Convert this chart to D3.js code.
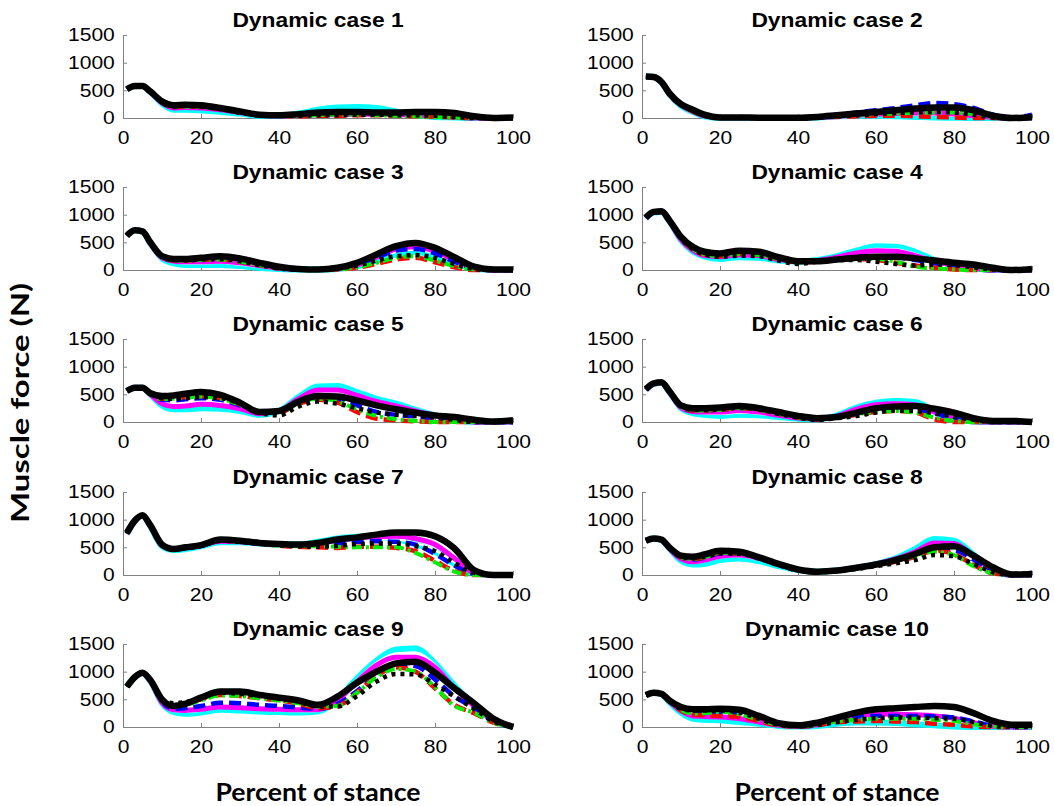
<!DOCTYPE html>
<html>
<head>
<meta charset="utf-8">
<script src="https://cdn.jsdelivr.net/npm/d3@7"></script>
<style>
body { margin: 0; background: #fff; }
svg { display: block; }
.tick text { font-family: "Liberation Sans", Arial, sans-serif; font-size: 18px; fill: #000; }
.title { font-family: "Liberation Sans", Arial, sans-serif; font-size: 19.5px; font-weight: bold; }
.axlabel { font-family: "Lato", "Open Sans", sans-serif; font-weight: bold; }
</style>
</head>
<body>
<svg id="chart" width="1054" height="806"></svg>
<script>
// percent of stance at which each value is read
const stance = [1, 3, 5, 7, 10, 13, 16, 20, 25, 30, 35, 40, 45, 50, 55, 60, 65, 70, 75, 80, 85, 90, 95, 100];
const yTicks = [0, 500, 1000, 1500];
const xTicks = [0, 20, 40, 60, 80, 100];
const titles = ["Dynamic case 1", "Dynamic case 2", "Dynamic case 3", "Dynamic case 4", "Dynamic case 5",
                "Dynamic case 6", "Dynamic case 7", "Dynamic case 8", "Dynamic case 9", "Dynamic case 10"];
// order of rows inside every case array
const seriesNames = ["cyan", "white", "magenta", "blue", "red", "green", "dotted", "black"];

const case1 = [
  [520,580,580,470,260,150,150,140,110, 80, 40, 40, 80,150,190,200,180,120, 60, 20, 10,  0,  0,  0],
  [520,580,580,470,270,190,200,190,160,110, 50, 40, 60, 80, 90,100, 90, 80, 70, 50, 30,  0,  0,  0],
  [520,580,580,470,270,180,190,180,150,100, 50, 40, 50, 60, 60, 70, 70, 60, 50, 40, 20,  0,  0,  0],
  [520,580,580,470,280,200,210,200,160,100, 50, 40, 40, 50, 60, 70, 70, 60, 50, 40, 20, 10,  0,  0],
  [520,580,580,470,280,200,210,200,160,100, 50, 40, 30, 40, 40, 50, 50, 40, 30, 20, 10,  0,  0,  0],
  [520,580,580,470,280,200,210,200,160,100, 50, 40, 40, 50, 60, 60, 50, 40, 30, 20, 10,  0,  0,  0],
  [520,580,580,470,290,210,220,210,160,100, 50, 40, 40, 50, 50, 60, 60, 50, 50, 40, 20,  0,  0,  0],
  [520,580,580,480,300,230,240,230,180,120, 60, 50, 70,100,110,110,100,100,110,110, 90, 30,  0, 10]
];
const case2 = [
  [750,740,640,430,220,110, 30,  0,  0,  0,  0,  0, 10, 30, 40, 40, 30, 20, 10,  5,  0,  0,  0,  0],
  [750,740,640,430,230,120, 40,  5,  5,  0,  0,  0, 10, 30, 50, 60, 70, 70, 60, 40, 20,  0,  0,  0],
  [750,740,640,430,230,120, 40,  5,  5,  0,  0,  0, 10, 30, 50, 70, 80, 90, 90, 70, 40, 10,  0,  0],
  [750,740,650,440,240,140, 50, 10, 20, 10,  5,  5, 20, 60,100,140,180,230,270,250,180, 60, 10, 60],
  [750,740,640,430,230,120, 40,  5,  5,  0,  0,  0, 10, 20, 30, 40, 40, 30, 20, 10,  0,  0,  0,  0],
  [750,740,650,440,240,130, 40,  5,  5,  0,  0,  0, 10, 30, 50, 70, 80, 90,100,100, 70, 20,  0, 10],
  [750,740,650,440,240,130, 40,  5,  5,  0,  0,  0, 10, 30, 50, 70, 90,100,110,100, 60, 10,  0, 10],
  [750,740,650,450,250,150, 60, 10, 10,  5,  5,  5, 20, 50, 80,110,140,170,190,190,140, 40,  0, 20]
];
const case3 = [
  [620,720,690,480,210,120, 90, 90, 90, 70, 40, 20, 10, 10, 20, 70,170,280,330,260,120, 20,  0,  0],
  [620,720,690,480,220,140,120,120,130,100, 60, 20, 10, 10, 30, 90,210,330,370,300,150, 30,  0,  0],
  [620,720,690,480,220,160,150,150,160,130, 80, 30, 10, 10, 20, 90,230,380,420,340,180, 40,  0,  0],
  [620,720,690,480,230,170,170,180,190,150, 90, 30, 10, 10, 20, 90,220,350,380,300,150, 30,  0,  0],
  [620,720,690,480,230,170,170,180,190,150, 90, 30, 10,  5, 10, 40,110,190,220,140, 50,  0,  0,  0],
  [620,720,690,480,230,170,170,180,190,150, 90, 30, 10,  5, 10, 50,130,220,250,170, 70, 10,  0,  0],
  [620,720,690,480,240,180,180,190,200,160, 90, 30, 10, 10, 30, 80,170,250,270,220,110, 20,  0,  0],
  [620,720,700,500,250,200,200,220,250,210,130, 60, 20, 10, 40,130,280,430,490,400,230, 60, 10, 10]
];
const case4 = [
  [930,1040,1050,880,540,340,240,200,230,220,170,150,180,250,350,430,420,330,180, 80, 30,  0,  0,  0],
  [930,1040,1050,880,550,350,260,230,260,250,180,150,170,230,320,380,370,290,170, 80, 30,  0,  0,  0],
  [930,1040,1050,880,550,360,260,240,270,260,190,150,170,230,310,350,340,260,160, 80, 30,  0,  0,  0],
  [940,1040,1050,890,570,390,300,270,310,290,210,150,160,200,240,250,230,180,120, 70, 30,  0,  0,  0],
  [940,1040,1050,890,570,380,280,250,290,270,200,140,150,180,200,180,130, 80, 40, 10,  0,  0,  0,  0],
  [940,1040,1050,890,570,380,280,250,290,270,200,140,150,180,200,200,150, 60, 30, 10,  0,  0,  0,  0],
  [940,1040,1050,890,570,380,280,240,260,250,170,110,150,180,180,150,110, 80,100, 90, 50, 10,  0,  0],
  [950,1050,1060,900,600,420,330,300,350,330,230,160,160,190,220,240,240,210,170,130,100, 40,  0, 20]
];
const case5 = [
  [560,620,620,500,300,230,230,250,240,200,130,200,450,640,650,540,420,330,220,120, 40,  0,  0,  0],
  [560,620,620,500,340,320,340,380,360,280,160,190,400,560,560,470,360,280,190,110, 40,  0,  0,  0],
  [560,620,620,500,330,280,290,320,300,240,150,200,420,580,580,480,370,290,200,120, 50,  0,  0,  0],
  [560,620,620,510,400,390,410,430,400,300,170,180,350,440,400,300,180,130,100, 60, 20,  0,  0,  0],
  [560,620,620,510,420,430,450,470,430,320,170,170,330,400,350,180, 60, 30, 10,  0,  0,  0,  0,  0],
  [560,620,620,510,410,420,440,460,420,310,170,170,340,420,370,230,110, 50, 20,  0,  0,  0,  0,  0],
  [560,620,620,510,430,420,430,450,430,330,160,120,280,370,330,250,170,130,110, 80, 40,  0,  0,  0],
  [560,620,620,520,470,480,510,540,490,350,180,200,370,470,460,390,300,230,170,120, 90, 40, 10, 30]
];
const case6 = [
  [580,690,710,540,250,160,130,110,130,120, 90, 60, 50,120,260,350,380,360,200, 60, 10,  0,  0,  0],
  [580,690,710,540,260,180,160,150,170,150,110, 70, 50,110,240,320,350,330,190, 60, 10,  0,  0,  0],
  [580,690,710,540,260,190,180,180,210,180,120, 70, 50,110,230,310,330,310,180, 60, 10,  0,  0,  0],
  [590,690,710,550,270,210,210,220,250,220,150, 80, 50, 90,160,200,220,220,150, 60, 10,  0,  0,  0],
  [590,690,710,550,270,210,210,220,250,220,150, 80, 50, 80,130,180,200,170, 50,  0,  0,  0,  0,  0],
  [590,690,710,550,270,210,210,220,250,220,150, 80, 50, 80,140,180,200,170, 80, 20,  0,  0,  0,  0],
  [590,690,710,550,280,220,220,230,260,230,150, 80, 40, 70,110,170,210,200,160,100, 40,  0,  0,  0],
  [600,700,720,560,300,250,250,260,290,250,180,110, 70, 90,170,250,280,290,240,170, 70, 20, 20,  0]
];
const case7 = [
  [740,970,1070,880,520,450,470,520,590,590,570,550,550,600,660,690,680,650,560,420,200, 30,  0,  0],
  [740,970,1070,880,520,450,480,520,600,600,570,550,540,570,620,640,650,640,580,450,230, 40,  0,  0],
  [740,970,1070,880,530,460,490,530,610,600,570,550,540,570,630,670,690,700,660,550,300, 40,  0,  0],
  [750,970,1070,890,540,460,490,530,620,600,570,540,520,520,560,600,610,600,550,380,170, 20,  0,  0],
  [750,970,1070,890,540,460,490,530,620,600,570,530,510,500,490,510,510,490,430,260, 70,  0,  0,  0],
  [750,970,1070,890,540,460,490,530,620,600,570,530,520,520,510,500,500,500,400,230, 60,  0,  0,  0],
  [750,970,1070,890,540,460,490,530,620,600,570,540,520,510,530,560,570,570,520,430,220, 40,  0,  0],
  [760,980,1080,900,550,470,500,540,640,620,580,560,550,580,640,680,730,770,770,700,480, 90,  0,  0]
];
const case8 = [
  [620,660,630,480,260,190,200,270,300,250,160, 90, 60, 80,130,200,300,470,650,620,370, 80,  0,  0],
  [620,660,630,480,280,220,250,320,340,280,180, 90, 60, 80,130,200,290,430,580,560,340, 80,  0,  0],
  [620,660,630,480,290,240,270,340,360,300,190, 90, 60, 80,130,200,290,420,580,570,350, 90,  0,  0],
  [620,660,640,490,320,280,310,390,390,310,190, 90, 60, 80,130,190,270,370,470,450,280, 70,  0, 40],
  [620,660,640,490,320,290,320,400,390,310,190, 90, 60, 80,120,180,240,330,440,380,180, 30,  0,  0],
  [620,660,640,490,320,290,320,400,390,310,190, 90, 60, 80,120,180,250,340,420,360,160, 30,  0,  0],
  [620,660,640,490,330,300,330,390,380,300,180, 80, 50, 70,110,160,210,270,360,340,200, 50,  0,  0],
  [620,660,640,500,350,330,370,440,420,320,200,100, 60, 80,130,190,270,380,500,520,350,140, 10, 20]
];
const case9 = [
  [730,900,970,830,430,270,240,260,310,300,280,270,260,280,500,880,1200,1400,1420,1150,750,400,120, 0],
  [730,900,970,830,440,290,280,300,360,350,320,300,290,290,490,850,1160,1330,1340,1120,720,390,120, 0],
  [730,900,970,830,440,310,300,320,360,350,330,320,310,310,480,820,1120,1260,1260,1080,700,380,120, 0],
  [730,900,970,840,460,330,340,380,440,430,400,380,350,330,420,650,950,1130,1100,860,550,350,100,  0],
  [730,900,970,840,470,380,420,500,580,560,520,480,420,340,380,620,920,1080,1000,700,400,250, 80,  0],
  [730,900,970,840,470,360,400,480,570,560,520,480,430,370,380,620,900,1050,1000,720,380,260, 80,  0],
  [730,900,970,840,480,430,450,520,620,600,560,520,460,370,370,560,820,960,950,770,550,330,100,  0],
  [730,900,980,850,500,380,420,530,640,640,580,530,480,400,550,800,1000,1150,1180,980,700,430,150,  0]
];
const case10 = [
  [580,620,590,450,260,150,130,120, 90, 60, 20, 10, 20, 60, 80, 80, 70, 50, 30, 10,  0,  0,  0,  0],
  [580,620,590,450,280,190,190,200,170,100, 30, 10, 30, 90,140,170,170,160,140,100, 40,  0,  0,  0],
  [580,620,590,460,290,200,190,180,150, 90, 30, 10, 40,120,200,230,230,220,200,160, 80, 10,  0,  0],
  [580,620,600,470,310,230,240,250,220,120, 40, 10, 40,150,190,200,200,200,190,170,100, 20,  0,  0],
  [580,620,600,470,300,220,210,200,180,110, 30, 10, 30, 90,100,110,100, 90, 60, 40, 10,  0,  0,  0],
  [580,620,600,470,310,240,250,270,230,130, 40, 10, 40,100,130,150,150,150,130,110, 50, 10,  0,  0],
  [580,620,600,470,330,300,300,300,260,150, 40, 20, 40, 90,130,160,170,170,160,150, 90, 20,  0,  0],
  [580,620,600,480,360,320,320,330,310,200, 70, 30, 80,170,260,320,340,360,380,360,250,110, 40, 40]
];
const cases = [case1, case2, case3, case4, case5, case6, case7, case8, case9, case10];

// line look for each series
const lineStyle = {
  cyan:    { color: "#00ffff", width: 6,   dash: null },
  white:   { color: "#ffffff", width: 2.5, dash: null },
  magenta: { color: "#ff00ff", width: 5,   dash: null },
  blue:    { color: "#0000ff", width: 4.5, dash: "12,6" },
  red:     { color: "#ff0000", width: 4.5, dash: "12,6" },
  green:   { color: "#00ee00", width: 4,   dash: "10,4,3,4" },
  dotted:  { color: "#000000", width: 4.5, dash: "4,5" },
  black:   { color: "#000000", width: 6.5, dash: null }
};

const SX = 1.17;   // the figure is stretched a bit horizontally
const W = 390, H = 83;
const colLeft = [123, 642];
const rowBase = [118, 270, 422, 575, 727];

const svg = d3.select("#chart");
const x = d3.scaleLinear().domain([0, 100]).range([0, W]);
const y = d3.scaleLinear().domain([0, 1500]).range([H, 0]);
const line = d3.line()
  .x((d, i) => x(stance[i]))
  .y(d => y(d))
  .curve(d3.curveMonotoneX);

cases.forEach(function(data, k) {
  var col = k % 2, row = Math.floor(k / 2);
  var g = svg.append("g")
    .attr("transform", "translate(" + colLeft[col] + "," + (rowBase[row] - H) + ")");

  // axes, MATLAB style: ticks pointing inside, no box
  var ya = g.append("g")
    .call(d3.axisLeft(y).tickValues(yTicks).tickFormat(d3.format("d"))
      .tickSizeInner(-4).tickSizeOuter(0).tickPadding(7));
  var xa = g.append("g")
    .attr("transform", "translate(0," + H + ")")
    .call(d3.axisBottom(x).tickValues(xTicks).tickFormat(d3.format("d"))
      .tickSizeInner(-4).tickSizeOuter(0).tickPadding(13));
  [ya, xa].forEach(function(a) {
    a.select(".domain").attr("stroke", "#808080");
    a.selectAll(".tick line").attr("stroke", "#808080");
    a.selectAll(".tick text").attr("transform", "scale(" + SX + ",1)");
  });

  // curves
  seriesNames.forEach(function(name, s) {
    var st = lineStyle[name];
    g.append("path")
      .datum(data[s])
      .attr("class", "series " + name)
      .attr("fill", "none")
      .attr("stroke", st.color)
      .attr("stroke-width", st.width)
      .attr("stroke-dasharray", st.dash)
      .attr("stroke-linejoin", "round")
      .attr("d", line);
  });

  // panel title
  g.append("g")
    .attr("transform", "translate(" + (W / 2) + ",-8)")
    .append("text")
    .attr("class", "title")
    .attr("text-anchor", "middle")
    .attr("transform", "scale(" + SX + ",1)")
    .text(titles[k]);
});

// shared axis labels
svg.append("text")
  .attr("class", "axlabel")
  .attr("transform", "translate(29,403) rotate(-90)")
  .attr("text-anchor", "middle")
  .attr("font-size", 24)
  .attr("textLength", 240)
  .attr("lengthAdjust", "spacingAndGlyphs")
  .text("Muscle force (N)");

colLeft.forEach(function(c) {
  svg.append("text")
    .attr("class", "axlabel")
    .attr("x", c + W / 2)
    .attr("y", 801)
    .attr("text-anchor", "middle")
    .attr("font-size", 25)
    .attr("textLength", 205)
    .attr("lengthAdjust", "spacingAndGlyphs")
    .text("Percent of stance");
});
</script>
</body>
</html>
